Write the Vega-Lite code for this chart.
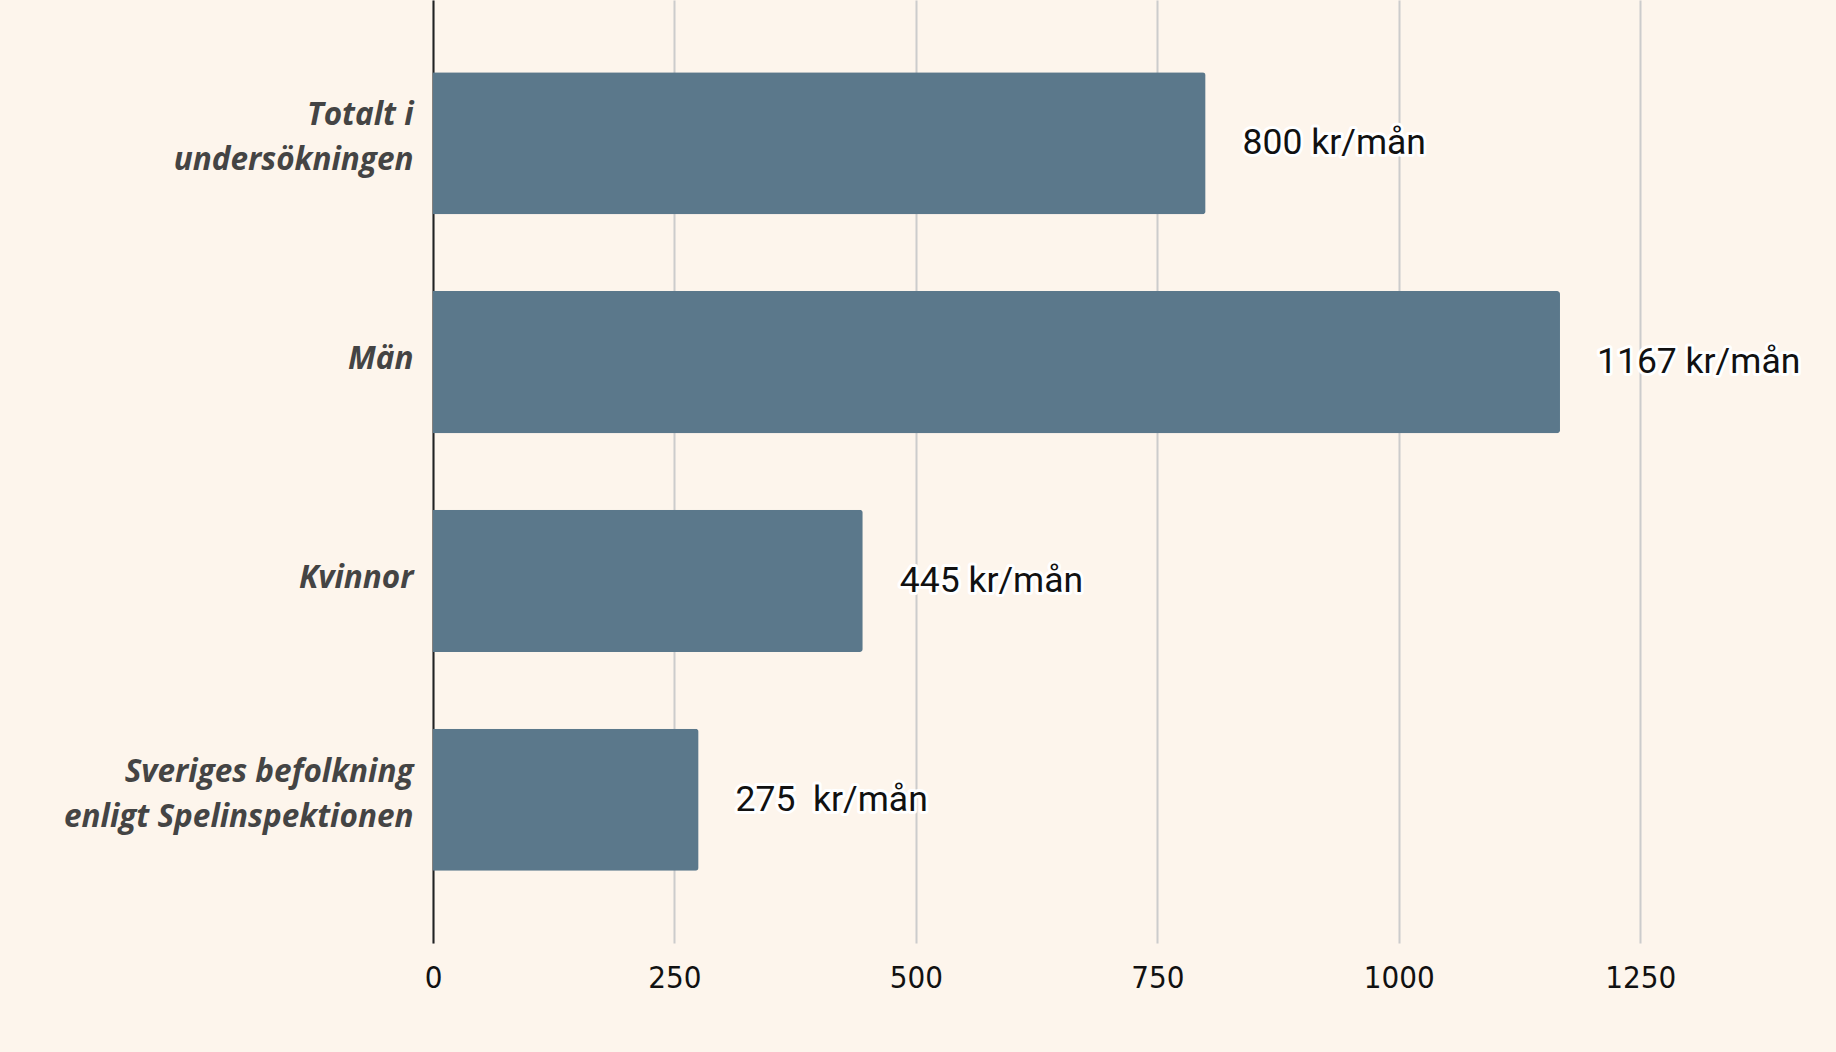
{
  "$schema": "https://vega.github.io/schema/vega-lite/v6.json",
  "autosize": "none",
  "width": 1352,
  "height": 943,
  "padding": {"left": 433, "top": 0, "right": 51, "bottom": 109},
  "background": "#fdf5ec",
  "config": {"view": {"stroke": null}},
  "data": {
    "values": [
      {"group": "Totalt i|undersökningen", "value": 800, "label": "800 kr/mån"},
      {"group": "Män", "value": 1167, "label": "1167 kr/mån"},
      {"group": "Kvinnor", "value": 445, "label": "445 kr/mån"},
      {"group": "Sveriges befolkning|enligt Spelinspektionen", "value": 275, "label": "275\u00a0 kr/mån"}
    ]
  },
  "encoding": {
    "y": {
      "field": "group",
      "type": "nominal",
      "sort": null,
      "scale": {"paddingInner": 0.3506, "paddingOuter": 0.33},
      "axis": {
        "title": null,
        "labelExpr": "split(datum.label, '|')",
        "labelFont": "Open Sans",
        "labelFontSize": 31.5,
        "labelFontStyle": "italic",
        "labelFontWeight": "bold",
        "labelColor": "#444444",
        "labelLineHeight": 45,
        "labelPadding": 20,
        "labelLimit": 600,
        "labelOffset": {"condition": {"test": "indexof(datum.value, '|') >= 0", "value": -27}, "value": -2},
        "ticks": false,
        "domainColor": "#222222",
        "domainWidth": 2,
        "grid": false
      }
    },
    "x": {
      "field": "value",
      "type": "quantitative",
      "scale": {"domain": [0, 1400], "nice": false},
      "axis": {
        "title": null,
        "values": [0, 250, 500, 750, 1000, 1250],
        "format": "d",
        "grid": true,
        "gridColor": "#cccccc",
        "gridWidth": 2,
        "domain": false,
        "ticks": false,
        "labelFlush": false,
        "labelFont": "DejaVu Sans Condensed",
        "labelFontSize": 31,
        "labelColor": "#111111",
        "labelPadding": 20
      }
    }
  },
  "layer": [
    {"mark": {"type": "bar", "color": "#5b788b", "cornerRadiusEnd": 3}},
    {
      "mark": {"type": "text", "align": "left", "baseline": "middle", "dx": 37, "font": "Roboto", "fontSize": 35.5, "stroke": "#ffffff", "strokeWidth": 6, "strokeJoin": "round", "fill": "#ffffff"},
      "encoding": {"text": {"field": "label"}}
    },
    {
      "mark": {"type": "text", "align": "left", "baseline": "middle", "dx": 37, "font": "Roboto", "fontSize": 35.5, "fill": "#111111"},
      "encoding": {"text": {"field": "label"}}
    }
  ]
}
